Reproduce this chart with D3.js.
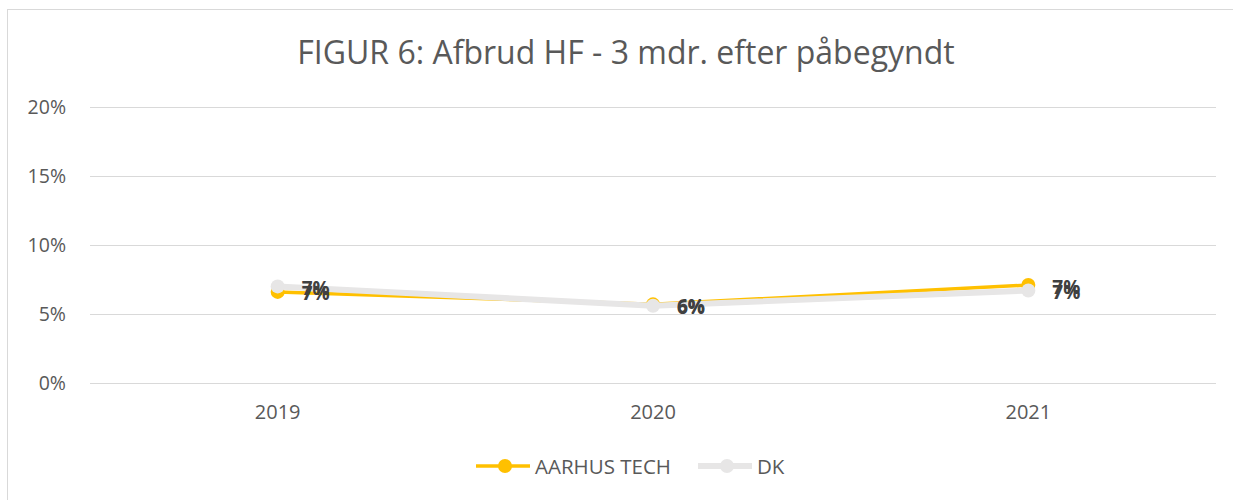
<html>
<script src="https://d3js.org/d3.v7.min.js"></script>
<style>
    body { margin: 0; background: #fff; }
    text { font-family: "Open Sans", sans-serif; }
</style>
<body>
<svg width=1233 height=500></svg>
<script>
    // chart data
    var years = ["2019", "2020", "2021"];
    var aarhusTech = [0.066, 0.057, 0.071];
    var dk = [0.070, 0.056, 0.067];
    var seriesNames = ["AARHUS TECH", "DK"];
    var seriesColors = ["#FFC000", "#E7E6E6"];
    var yTicks = [0, 0.05, 0.10, 0.15, 0.20];

    var svg = d3.select("svg");

    // outer border
    svg.append("rect")
        .attr("x", 7.5).attr("y", 9.5)
        .attr("width", 1230).attr("height", 500)
        .attr("fill", "none").attr("stroke", "#d9d9d9");

    svg.append("text")
        .attr("x", 626).attr("y", 64)
        .attr("text-anchor", "middle")
        .attr("font-size", "32px")
        .attr("fill", "#595959")
        .text("FIGUR 6: Afbrud HF - 3 mdr. efter påbegyndt");

    var xs = d3.scaleBand().domain(years).range([90, 1216]);
    var ys = d3.scaleLinear().domain([0, 0.20]).range([383, 107]);

    // gridlines
    svg.append("g").selectAll("line").data(yTicks).enter().append("line")
        .attr("x1", 90).attr("x2", 1216)
        .attr("y1", function (d) { return ys(d) + 0.5; })
        .attr("y2", function (d) { return ys(d) + 0.5; })
        .attr("stroke", "#d9d9d9").attr("stroke-width", 1);

    var yAxis = svg.append("g")
        .attr("transform", "translate(66,0)")
        .call(d3.axisLeft(ys).tickValues(yTicks).tickSize(0).tickPadding(0).tickFormat(d3.format(".0%")));
    yAxis.select(".domain").remove();
    yAxis.selectAll("text").attr("font-size", "19.5px").attr("fill", "#595959")
        .attr("font-family", "Open Sans");

    var xAxis = svg.append("g")
        .attr("transform", "translate(0,383)")
        .call(d3.axisBottom(xs).tickSize(0).tickPadding(22));
    xAxis.select(".domain").remove();
    xAxis.selectAll("text").attr("font-size", "20px").attr("fill", "#595959")
        .attr("font-family", "Open Sans");

    var all = [aarhusTech, dk];
    var widths = [3.5, 6];
    var cx = function (d, i) { return xs(years[i]) + xs.bandwidth() / 2; };

    all.forEach(function (vals, k) {
        var g = svg.append("g");
        g.append("path")
            .datum(vals)
            .attr("fill", "none")
            .attr("stroke", seriesColors[k])
            .attr("stroke-width", widths[k])
            .attr("stroke-linejoin", "round")
            .attr("d", d3.line().x(cx).y(function (d) { return ys(d); }));
        g.selectAll("circle").data(vals).enter().append("circle")
            .attr("cx", cx)
            .attr("cy", function (d) { return ys(d); })
            .attr("r", 7)
            .attr("fill", seriesColors[k]);
    });

    // data labels
    all.forEach(function (vals, k) {
        svg.append("g").selectAll("text").data(vals).enter().append("text")
            .attr("x", function (d, i) { return cx(d, i) + 24; })
            .attr("y", function (d) { return ys(d) + 8.5; })
            .attr("font-size", "19px")
            .attr("font-weight", "bold")
            .attr("fill", "#404040")
            .text(function (d) { return d3.format(".0%")(d); });
    });

    // legend
    var legendX = [476, 698];
    seriesNames.forEach(function (name, k) {
        var lg = svg.append("g").attr("transform", "translate(" + legendX[k] + ",466)");
        lg.append("line").attr("x1", 0).attr("x2", 54)
            .attr("stroke", seriesColors[k]).attr("stroke-width", widths[k]);
        lg.append("circle").attr("cx", 29).attr("r", 7).attr("fill", seriesColors[k]);
        lg.append("text").attr("x", 59).attr("y", 8)
            .attr("font-size", "20.5px").attr("fill", "#595959")
            .text(name);
    });
</script>
</body>
</html>
